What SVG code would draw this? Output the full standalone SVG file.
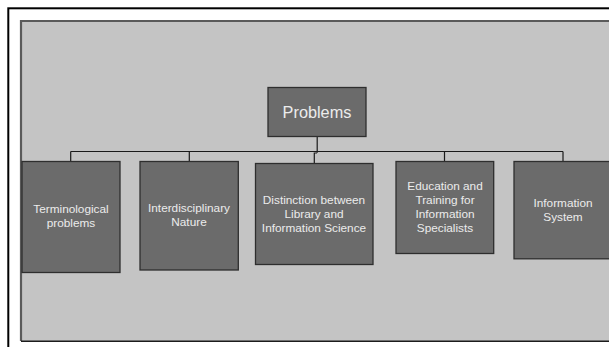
<svg xmlns="http://www.w3.org/2000/svg" width="609" height="347" viewBox="0 0 609 347">
<style>
.box{fill:#6b6b6b;stroke:#2e2e2e;stroke-width:1.3}
.t{font-family:"Liberation Sans",Arial,sans-serif;font-size:11.8px;fill:#ececec;text-anchor:middle}
.c{fill:none;stroke:#1a1a1a;stroke-width:1.2}
</style>
<rect x="0" y="0" width="609" height="347" fill="#ffffff"/>
<rect x="8.3" y="8.3" width="620" height="360" fill="none" stroke="#000" stroke-width="2"/>
<rect x="21" y="21" width="600" height="320" fill="#c4c4c4"/>
<path d="M21,341 V21 H609" fill="none" stroke="#5a5a5a" stroke-width="2.2"/>
<path d="M21,341.3 H609" fill="none" stroke="#1c1c1c" stroke-width="1.6"/>
<g id="connectors">
<path class="c" d="M317.2,137 V152.8" stroke-width="2.2"/>
<path class="c" d="M70.7,151.5 H563"/>
<path class="c" d="M70.7,151.5 V161.3 M189.3,151.5 V161.3 M444.5,151.5 V161.3 M563,151.5 V161.3"/>
<path class="c" d="M317,153 H314.3 V163"/>
</g>
<g id="problems">
<rect class="box" x="268" y="87.5" width="98" height="49"/>
<text class="t" x="317" y="117.5" style="font-size:16.3px">Problems</text>
</g>
<g id="terminological">
<rect class="box" x="22" y="161.5" width="98" height="111"/>
<text class="t" x="71" y="213">Terminological</text>
<text class="t" x="71" y="227">problems</text>
</g>
<g id="interdisciplinary">
<rect class="box" x="140" y="161.5" width="98.3" height="108.5"/>
<text class="t" x="189" y="212">Interdisciplinary</text>
<text class="t" x="189" y="226">Nature</text>
</g>
<g id="distinction">
<rect class="box" x="255.5" y="163.5" width="117.5" height="101"/>
<text class="t" x="314" y="204">Distinction between</text>
<text class="t" x="314" y="218">Library and</text>
<text class="t" x="314" y="232">Information Science</text>
</g>
<g id="education">
<rect class="box" x="396" y="161.5" width="97.7" height="92"/>
<text class="t" x="445" y="190">Education and</text>
<text class="t" x="445" y="204">Training for</text>
<text class="t" x="445" y="218">Information</text>
<text class="t" x="445" y="232">Specialists</text>
</g>
<g id="information-system">
<rect class="box" x="514" y="161.5" width="98" height="97.3"/>
<text class="t" x="563" y="207">Information</text>
<text class="t" x="563" y="221">System</text>
</g>
</svg>
